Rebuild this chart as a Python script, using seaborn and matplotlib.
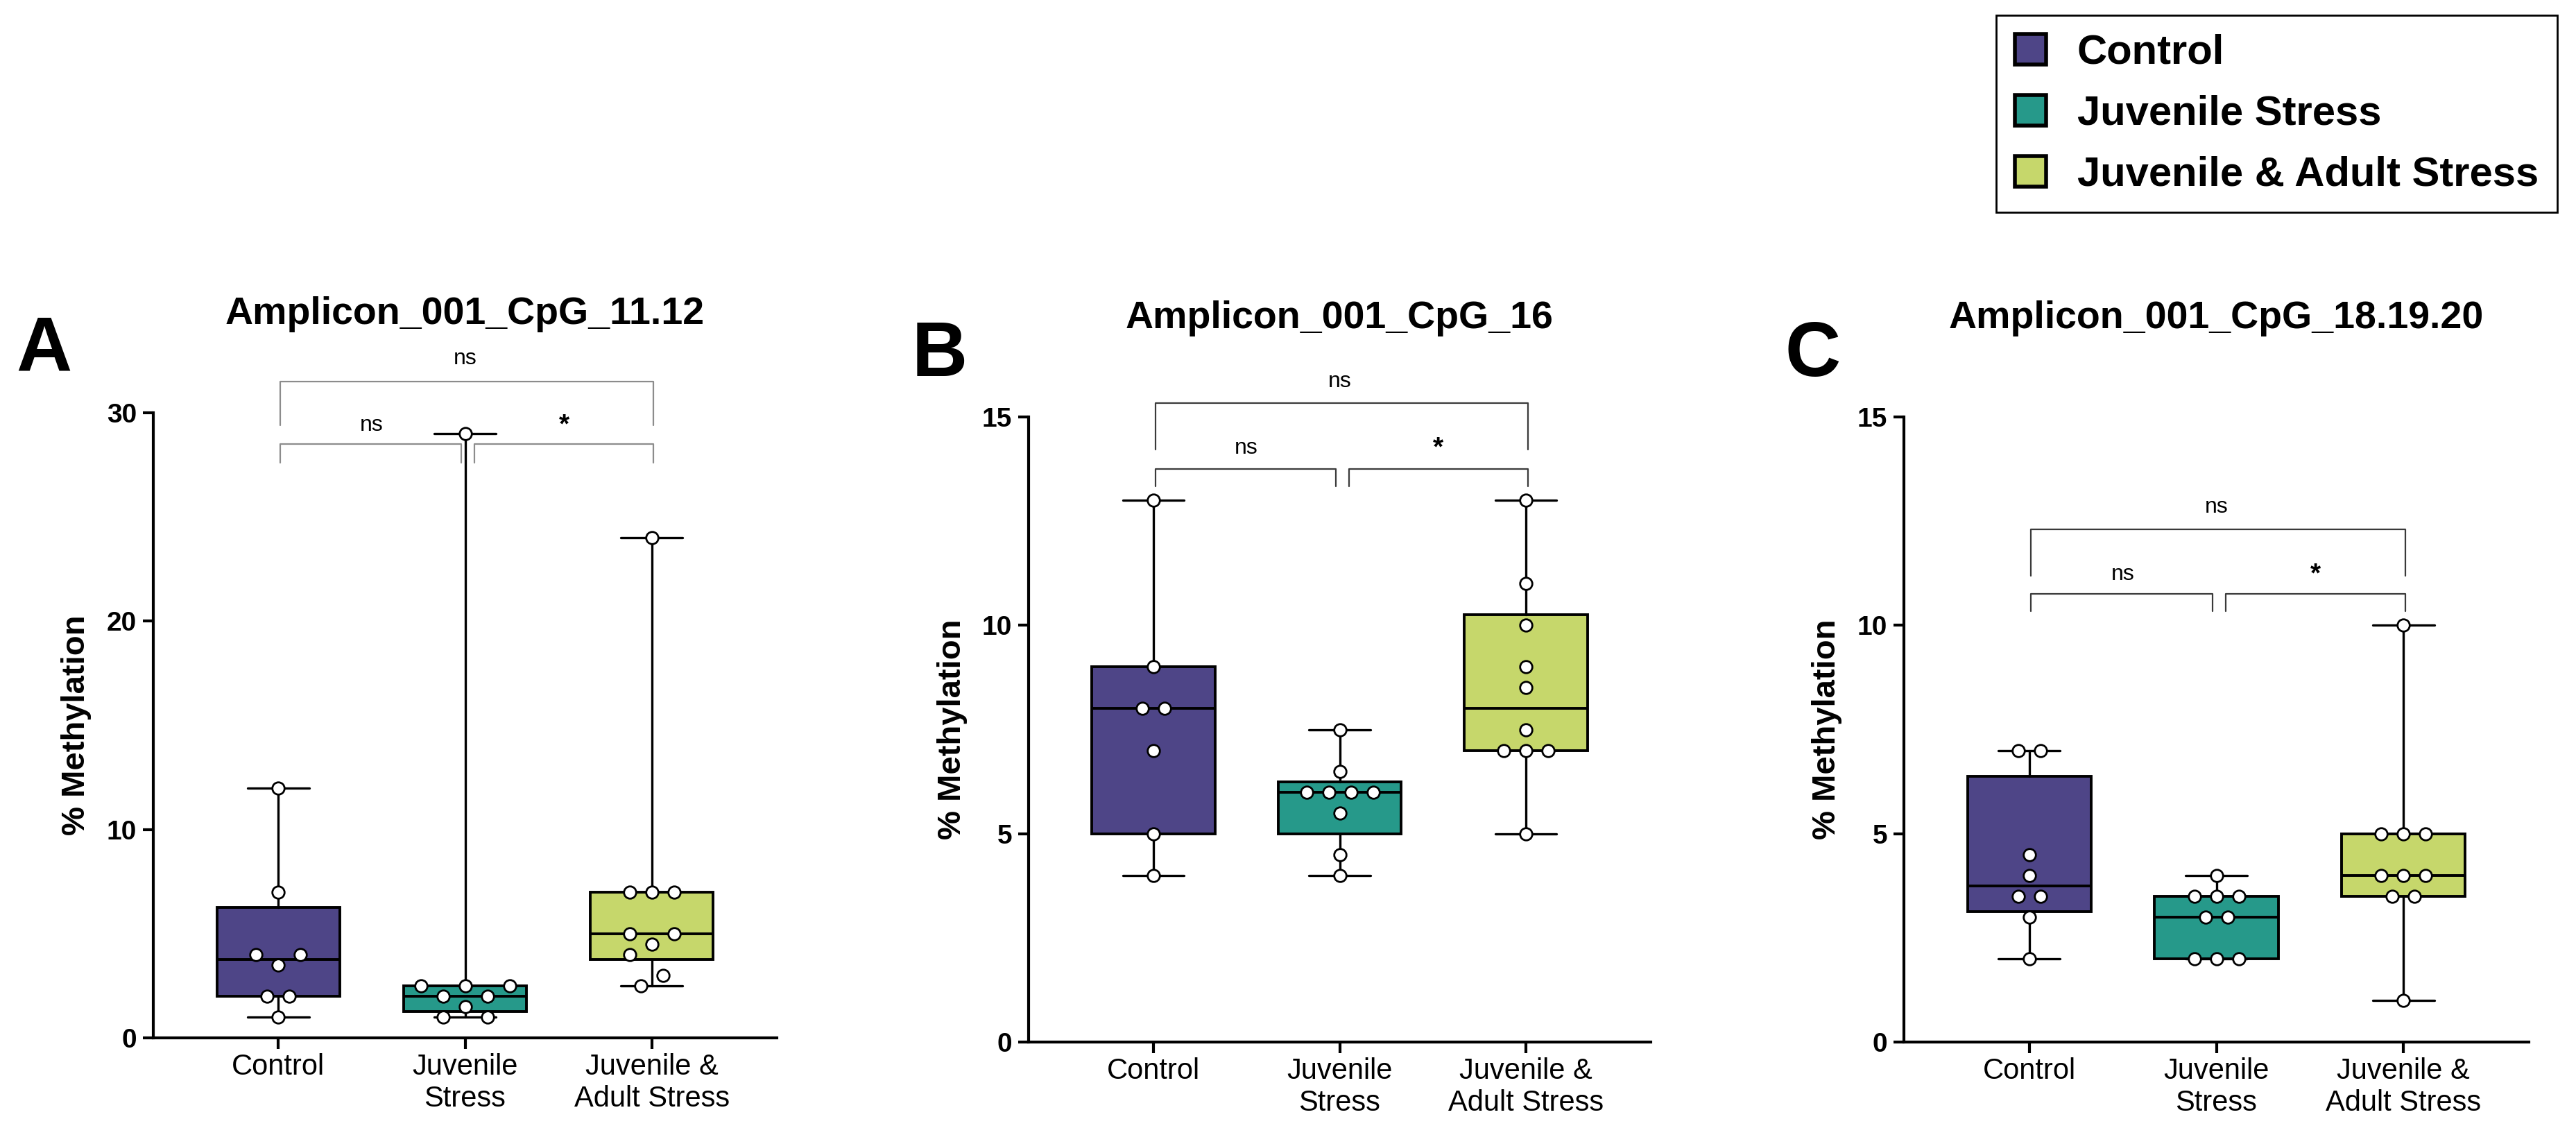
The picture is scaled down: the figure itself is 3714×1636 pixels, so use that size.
import numpy as np
import pandas as pd
import matplotlib
matplotlib.use("Agg")
import matplotlib.pyplot as plt
from matplotlib.patches import Patch
import seaborn as sns

# groups / labels
groups = ['Control', 'Juvenile Stress', 'Juvenile & Adult Stress']
tick_labels = ['Control', 'Juvenile\nStress', 'Juvenile &\nAdult Stress']
colors = ['#4e4587', '#26998a', '#c6d76b']

titles = ['Amplicon_001_CpG_11.12', 'Amplicon_001_CpG_16', 'Amplicon_001_CpG_18.19.20']
panel_letters = ['A', 'B', 'C']
y_max = [30, 15, 15]
y_ticks = [[0, 10, 20, 30], [0, 5, 10, 15], [0, 5, 10, 15]]
sig_labels = ['ns', 'ns', '*']  # top bracket, lower left, lower right

# % methylation per animal
a_control = [12, 7, 4, 4, 3.5, 2, 2, 1]
a_juvenile = [29, 2.5, 2.5, 2.5, 2, 2, 1.5, 1, 1]
a_adult = [24, 7, 7, 7, 5, 5, 4.5, 4, 3, 2.5]

b_control = [13, 9, 8, 8, 7, 5, 4]
b_juvenile = [7.5, 6.5, 6, 6, 6, 6, 5.5, 4.5, 4]
b_adult = [13, 11, 10, 9, 8.5, 7.5, 7, 7, 7, 5]

c_control = [7, 7, 4.5, 4, 3.5, 3.5, 3, 2]
c_juvenile = [4, 3.5, 3.5, 3.5, 3, 3, 2, 2, 2]
c_adult = [10, 5, 5, 5, 4, 4, 4, 3.5, 3.5, 1]

panel_data = [[a_control, a_juvenile, a_adult],
              [b_control, b_juvenile, b_adult],
              [c_control, c_juvenile, c_adult]]

sns.set_style('ticks')
plt.rcParams['font.family'] = ['Liberation Sans', 'DejaVu Sans']
plt.rcParams.update({'text.color': 'black', 'axes.labelcolor': 'black',
                     'xtick.color': 'black', 'ytick.color': 'black'})

W, H, DPI = 3714, 1636, 200
fig = plt.figure(figsize=(W / DPI, H / DPI), dpi=DPI)

# axes boxes in pixels: left, top, right, bottom
ax_px = [(221, 595, 1120, 1496), (1483, 601, 2380, 1502), (2745, 601, 3646, 1502)]
letter_px = [(23, 535), (1315, 542), (2574, 542)]
# bracket heights (data units): top line, top drop, low line, low drop, top text, low text
brackets = [(31.5, 29.4, 28.5, 27.6, 32.6, 29.4),
            (15.33, 14.22, 13.75, 13.33, 15.85, 14.25),
            (12.3, 11.19, 10.75, 10.34, 12.83, 11.22)]
bracket_color = ['#8c8c8c', '#3a3a3a', '#3a3a3a']

XLIM = (-0.67, 2.67)
SLOT_PX = 16
MIN_DIST = 28


def box_stats(vals):
    q1, med, q3 = np.percentile(vals, [25, 50, 75], method='weibull')
    return dict(med=med, q1=q1, q3=q3, whislo=min(vals), whishi=max(vals), fliers=[])


def layout(vals, ppu):
    # GraphPad-like symmetric scatter: returns slot index per point
    vs, ks = np.unique(vals, return_counts=True)
    clusters = [[(vs[0], ks[0])]]
    for v, k in zip(vs[1:], ks[1:]):
        if (v - clusters[-1][-1][0]) * ppu < MIN_DIST:
            clusters[-1].append((v, k))
        else:
            clusters.append([(v, k)])
    out = []
    for cl in clusters:
        if len(cl) == 1:
            v, k = cl[0]
            out += [(2 * i - (k - 1), v) for i in range(k)]
            continue
        placed = []
        for v, k in cl:
            base = [4 * i - 2 * (k - 1) for i in range(k)]
            for s in [0, 1, -1, 2, -2, 3, -3, 4, -4, 5, -5]:
                cand = [b + s for b in base]
                if all(np.hypot((c - p) * SLOT_PX, (v - pv) * ppu) >= MIN_DIST
                       for c in cand for p, pv in placed):
                    break
            placed += [(c, v) for c in cand]
        slots = [p for p, _ in placed]
        shift = round((max(slots) + min(slots)) / 2)
        out += [(p - shift, v) for p, v in placed]
    return out


for i in range(3):
    l, t, r, b = ax_px[i]
    ax = fig.add_axes([l / W, 1 - b / H, (r - l) / W, (b - t) / H])
    ax.set_xlim(*XLIM)
    ax.set_ylim(0, y_max[i])

    data = panel_data[i]
    bp = ax.bxp([box_stats(d) for d in data], positions=[0, 1, 2], widths=0.66,
                capwidths=0.33, patch_artist=True, showfliers=False, manage_ticks=False,
                boxprops=dict(linewidth=1.4, edgecolor='black'),
                medianprops=dict(color='black', linewidth=1.4),
                whiskerprops=dict(color='black', linewidth=1.2),
                capprops=dict(color='black', linewidth=1.2))
    for patch, c in zip(bp['boxes'], colors):
        patch.set_facecolor(c)

    ppu = (b - t) / y_max[i]
    ppx = (r - l) / (XLIM[1] - XLIM[0])
    rows = []
    for g, d in enumerate(data):
        for slot, v in layout(d, ppu):
            rows.append({'x': g + slot * SLOT_PX / ppx, 'y': v})
    pts = pd.DataFrame(rows)
    sns.scatterplot(data=pts, x='x', y='y', ax=ax, color='white', edgecolor='black',
                    s=40, linewidth=1.0, zorder=5, legend=False)

    # significance brackets
    yl_top, yd_top, yl_low, yd_low, yt_top, yt_low = brackets[i]
    bc = bracket_color[i]
    kw = dict(color=bc, lw=0.8, clip_on=False, zorder=1)
    ax.plot([0.01, 0.01, 2.01, 2.01], [yd_top, yl_top, yl_top, yd_top], **kw)
    ax.plot([0.01, 0.01, 0.98, 0.98], [yd_low, yl_low, yl_low, yd_low], **kw)
    ax.plot([1.05, 1.05, 2.01, 2.01], [yd_low, yl_low, yl_low, yd_low], **kw)
    ax.text(1.0, yt_top, sig_labels[0], ha='center', va='center', fontsize=11.5)
    ax.text(0.5, yt_low, sig_labels[1], ha='center', va='center', fontsize=11.5)
    ax.text(1.53, yt_low, sig_labels[2], ha='center', va='center', fontsize=14,
            fontweight='bold')

    ax.set_title(titles[i], fontsize=20, fontweight='bold', y=1.0, pad=46)
    ax.set_ylabel('% Methylation', fontsize=17, fontweight='bold', va='center')
    ax.yaxis.set_label_coords(-0.123, 0.5)
    ax.set_xlabel('')

    ax.set_yticks(y_ticks[i])
    ax.set_xticks([0, 1, 2])
    ax.set_xticklabels(tick_labels)
    ax.tick_params(axis='both', direction='out', width=1.5, color='black')
    ax.tick_params(axis='y', length=5.4, pad=3.2, labelsize=14)
    ax.tick_params(axis='x', length=5.8, pad=2, labelsize=15)
    for lbl in ax.get_yticklabels():
        lbl.set_fontweight('bold')
    for lbl in ax.get_xticklabels():
        lbl.set_linespacing(1.2)

    sns.despine(ax=ax)
    for sp in ['left', 'bottom']:
        ax.spines[sp].set_linewidth(1.5)
        ax.spines[sp].set_color('black')

    lx, ly = letter_px[i]
    fig.text(lx / W, 1 - ly / H, panel_letters[i], fontsize=40, fontweight='bold',
             ha='left', va='baseline')

handles = [Patch(facecolor=c, edgecolor='black', linewidth=2, label=g)
           for c, g in zip(colors, groups)]
leg = fig.legend(handles=handles, loc='upper right', bbox_to_anchor=(3687 / W, 1 - 22 / H),
                 frameon=True, fancybox=False, edgecolor='black', framealpha=1,
                 prop={'weight': 'bold', 'size': 21.5}, handlelength=0.75,
                 handleheight=0.75, handletextpad=0.75, labelspacing=0.55,
                 borderpad=0.45, borderaxespad=0)
leg.get_frame().set_linewidth(1.0)

fig.savefig('out.png', dpi=DPI)
